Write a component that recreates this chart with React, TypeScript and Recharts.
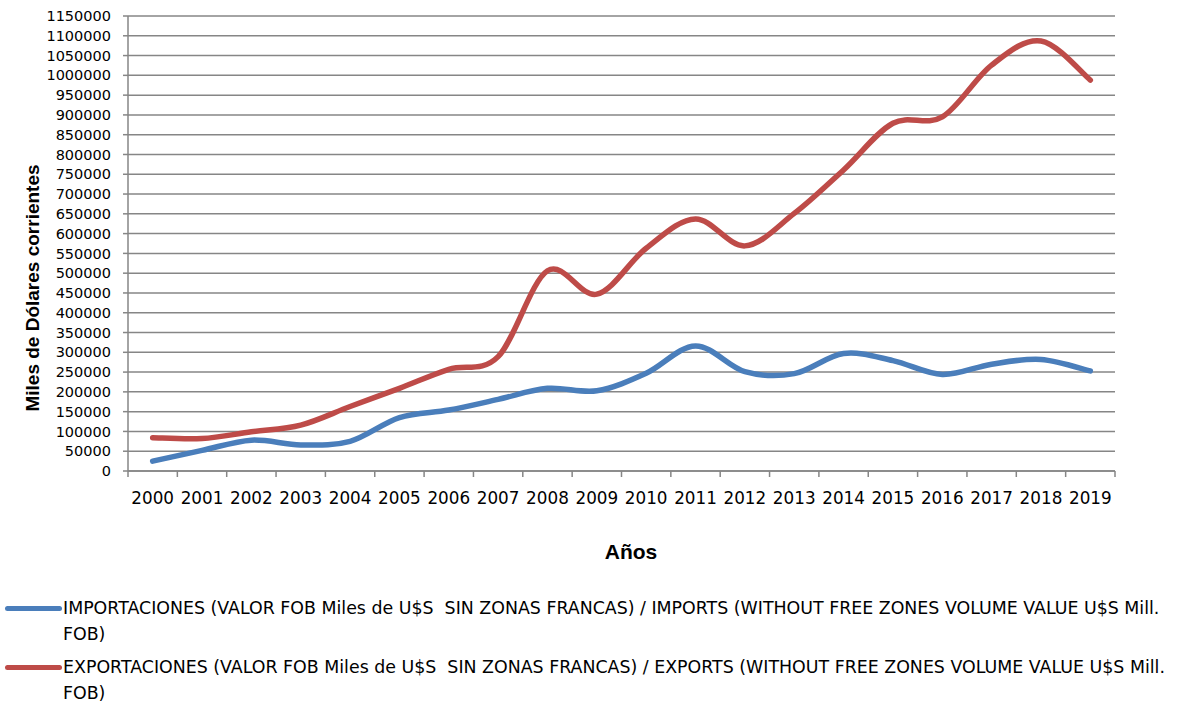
import React from 'react';
import { LineChart, Line, XAxis, YAxis, CartesianGrid, Legend } from 'recharts';

const years = ['2000','2001','2002','2003','2004','2005','2006','2007','2008','2009','2010','2011','2012','2013','2014','2015','2016','2017','2018','2019'];
const importsFob = [25000, 52000, 78000, 66000, 75000, 135000, 154000, 181000, 209000, 203000, 247000, 316000, 251000, 246000, 297000, 279000, 244000, 270000, 282000, 253000];
const exportsFob = [84000, 82000, 99000, 116000, 163000, 209000, 257000, 289000, 506000, 447000, 563000, 637000, 569000, 651000, 761000, 879000, 895000, 1026000, 1087000, 988000];
const yTicks = Array.from({ length: 24 }, (_, i) => i * 50000);

const importsName = 'IMPORTACIONES (VALOR FOB Miles de U$S  SIN ZONAS FRANCAS) / IMPORTS (WITHOUT FREE ZONES VOLUME VALUE U$S Mill. FOB)';
const exportsName = 'EXPORTACIONES (VALOR FOB Miles de U$S  SIN ZONAS FRANCAS) / EXPORTS (WITHOUT FREE ZONES VOLUME VALUE U$S Mill. FOB)';

const data = years.map((y, i) => ({ year: y, imp: importsFob[i], exp: exportsFob[i] }));

const FONT = '"DejaVu Sans", "Liberation Sans", sans-serif';
const TFONT = '"Liberation Sans", Arial, sans-serif';
const GRID = '#868686';
const BLUE = '#4A7EBB';
const RED = '#BE4B48';

// Excel-like smoothing (Catmull-Rom style bezier)
const excelCurve = (context: any) => {
  let pts: number[][] = [];
  return {
    areaStart() {},
    areaEnd() {},
    lineStart() { pts = []; },
    point(x: number, y: number) { pts.push([+x, +y]); },
    lineEnd() {
      if (!pts.length) return;
      context.moveTo(pts[0][0], pts[0][1]);
      for (let i = 0; i < pts.length - 1; i++) {
        const p0 = pts[i - 1] || pts[i];
        const p1 = pts[i];
        const p2 = pts[i + 1];
        const p3 = pts[i + 2] || pts[i + 1];
        const c1x = p1[0] + (p2[0] - p0[0]) / 6;
        const c1y = p1[1] + (p2[1] - p0[1]) / 6;
        const c2x = p2[0] - (p3[0] - p1[0]) / 6;
        const c2y = p2[1] - (p3[1] - p1[1]) / 6;
        context.bezierCurveTo(c1x, c1y, c2x, c2y, p2[0], p2[1]);
      }
    },
  };
};

const XTick = (props: any) => {
  const { x, y, payload, index, visibleTicksCount } = props;
  const off = payload && payload.offset ? payload.offset : 0;
  return (
    <g>
      <line x1={x - off} y1={y} x2={x - off} y2={y + 6} stroke={GRID} strokeWidth={1.5} />
      {index === visibleTicksCount - 1 && (
        <line x1={x + off} y1={y} x2={x + off} y2={y + 6} stroke={GRID} strokeWidth={1.5} />
      )}
      <text x={x} y={y + 33} textAnchor="middle" fontSize={16.8} fontFamily={FONT} fill="#000">
        {payload.value}
      </text>
    </g>
  );
};

const legendRows: Record<string, { l1: string; l2: string; color: string }> = {
  imp: { l1: 'IMPORTACIONES (VALOR FOB Miles de U$S  SIN ZONAS FRANCAS) / IMPORTS (WITHOUT FREE ZONES VOLUME VALUE U$S Mill.', l2: 'FOB)', color: BLUE },
  exp: { l1: 'EXPORTACIONES (VALOR FOB Miles de U$S  SIN ZONAS FRANCAS) / EXPORTS (WITHOUT FREE ZONES VOLUME VALUE U$S Mill.', l2: 'FOB)', color: RED },
};

const LegendContent = (props: any) => {
  const payload = props.payload || [];
  const order = ['imp', 'exp'];
  return (
    <div style={{ fontFamily: FONT, fontSize: 17.4, color: '#000', position: 'relative', height: 115, width: 1181 }}>
      {order.map((key, i) => {
        const p = payload.find((e: any) => e.dataKey === key);
        const it = legendRows[key];
        const c = (p && p.color) || it.color;
        return (
          <div key={key} style={{ position: 'absolute', left: 0, top: i * 59 }}>
            <div style={{ position: 'absolute', left: 5, top: 16, width: 57, height: 5, borderRadius: 3, background: c }} />
            <div style={{ position: 'absolute', left: 63, top: 5, whiteSpace: 'pre', lineHeight: '26px' }}>
              {it.l1}
              <br />
              {it.l2}
            </div>
          </div>
        );
      })}
    </div>
  );
};

export default function App() {
  return (
    <div style={{ position: 'absolute', left: 0, top: 0, width: 1181, height: 705, background: '#fff' }}>
      <LineChart
        width={1181}
        height={705}
        data={data}
        margin={{ top: 16, right: 66, bottom: 59, left: 0 }}
      >
        <CartesianGrid vertical={false} stroke={GRID} strokeWidth={1.5} />
        <XAxis
          dataKey="year"
          scale="band"
          tickLine={false}
          tickSize={0}
          tickMargin={0}
          axisLine={{ stroke: GRID, strokeWidth: 1.5 }}
          tick={<XTick />}
          interval={0}
          height={60}
        />
        <YAxis
          width={128}
          domain={[0, 1150000]}
          ticks={yTicks}
          interval={0}
          tickSize={5}
          tickMargin={12}
          tickLine={{ stroke: GRID, strokeWidth: 1.5 }}
          axisLine={{ stroke: GRID, strokeWidth: 1.5 }}
          tick={{ fontSize: 14.5, fontFamily: FONT, fill: '#000' }}
          tickFormatter={(v: number) => String(v)}
        />
        <Line
          type={excelCurve as any}
          dataKey="imp"
          name={importsName}
          stroke={BLUE}
          strokeWidth={5.5}
          strokeLinecap="round"
          dot={false}
          activeDot={false}
          isAnimationActive={false}
        />
        <Line
          type={excelCurve as any}
          dataKey="exp"
          name={exportsName}
          stroke={RED}
          strokeWidth={5.5}
          strokeLinecap="round"
          dot={false}
          activeDot={false}
          isAnimationActive={false}
        />
        <Legend
          layout="horizontal"
          verticalAlign="bottom"
          align="left"
          height={115}
          wrapperStyle={{ left: 0, top: 590, width: 1181, height: 115 }}
          content={<LegendContent />}
        />
        <text x={631} y={559} textAnchor="middle" fontSize={21} fontWeight="bold" fontFamily={TFONT} fill="#000">Años</text>
        <text
          x={0}
          y={0}
          transform="translate(39,288) rotate(-90)"
          textAnchor="middle"
          fontSize={19}
          fontWeight="bold"
          fontFamily={TFONT}
          fill="#000"
        >
          Miles de Dólares corrientes
        </text>
      </LineChart>
    </div>
  );
}
